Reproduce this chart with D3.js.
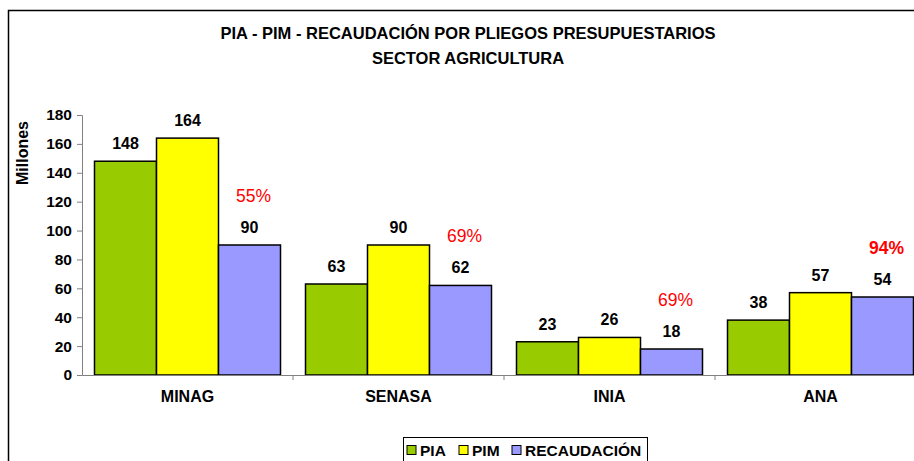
<!DOCTYPE html>
<html>
<head>
<meta charset="utf-8">
<script src="https://cdn.jsdelivr.net/npm/d3@7"></script>
<style>
  body { margin: 0; background: #fff; }
  svg { font-family: "Liberation Sans", Arial, sans-serif; }
</style>
</head>
<body>
<svg id="chart" width="914" height="461"></svg>
<script>
// chart data
const categories = ['MINAG', 'SENASA', 'INIA', 'ANA'];
const seriesNames = ['PIA', 'PIM', 'RECAUDACIÓN'];
const pia = [148, 63, 23, 38];
const pim = [164, 90, 26, 57];
const recaudacion = [90, 62, 18, 54];
const percents = ['55%', '69%', '69%', '94%'];
const yTicks = [0, 20, 40, 60, 80, 100, 120, 140, 160, 180];

const colors = ['#99cc00', '#ffff00', '#9999ff'];
const series = [pia, pim, recaudacion];

const svg = d3.select('#chart');

// outer frame
svg.append('rect')
  .attr('x', 8.5).attr('y', 10.5)
  .attr('width', 920).attr('height', 470)
  .attr('fill', 'none').attr('stroke', '#000').attr('stroke-width', 1.5);

// title
const title = svg.append('text')
  .attr('text-anchor', 'middle')
  .attr('font-weight', 'bold')
  .attr('font-size', 16.5);
title.append('tspan').attr('x', 468).attr('y', 39).text('PIA - PIM - RECAUDACIÓN POR PLIEGOS PRESUPUESTARIOS');
title.append('tspan').attr('x', 468).attr('y', 64).text('SECTOR AGRICULTURA');

const y = d3.scaleLinear().domain([0, 180]).range([375, 115]);
const x0 = d3.scaleBand().domain(categories).range([82, 926]);
const x1 = d3.scaleBand().domain(seriesNames).range([12.5, x0.bandwidth() - 12.5]);

// y axis
const yAxis = svg.append('g')
  .attr('transform', 'translate(82,0)')
  .call(d3.axisLeft(y).tickValues(yTicks).tickSize(5).tickPadding(5));
yAxis.select('.domain').attr('stroke', '#808080');
yAxis.selectAll('.tick line').attr('stroke', '#808080');
yAxis.selectAll('.tick text')
  .attr('font-size', 15.5).attr('font-weight', 'bold')
  .attr('font-family', '"Liberation Sans", Arial, sans-serif')
  .attr('fill', '#000');

svg.append('text')
  .attr('transform', 'translate(28,153) rotate(-90)')
  .attr('text-anchor', 'middle')
  .attr('font-weight', 'bold')
  .attr('font-size', 16)
  .text('Millones');

// bars
const groups = svg.selectAll('.grp')
  .data(categories)
  .enter().append('g')
  .attr('class', 'grp')
  .attr('transform', d => `translate(${x0(d)},0)`);

groups.each(function (cat, ci) {
  const g = d3.select(this);
  seriesNames.forEach((s, si) => {
    const v = series[si][ci];
    g.append('rect')
      .attr('x', x1(s))
      .attr('y', y(v))
      .attr('width', x1.bandwidth())
      .attr('height', y(0) - y(v))
      .attr('fill', colors[si])
      .attr('stroke', '#000')
      .attr('stroke-width', 1.5);
    g.append('text')
      .attr('x', x1(s) + x1.bandwidth() / 2)
      .attr('y', y(v) - 12)
      .attr('text-anchor', 'middle')
      .attr('font-weight', 'bold')
      .attr('font-size', 16)
      .text(v);
  });
  // percentage over recaudacion
  const r = recaudacion[ci];
  g.append('text')
    .attr('x', x1('RECAUDACIÓN') + x1.bandwidth() / 2 + 4)
    .attr('y', y(r) - 43)
    .attr('text-anchor', 'middle')
    .attr('font-size', 17.5)
    .attr('font-weight', ci === 3 ? 'bold' : 'normal')
    .attr('fill', '#ff0000')
    .text(percents[ci]);
});

// x axis
const xAxis = svg.append('g')
  .attr('transform', 'translate(0,375)')
  .call(d3.axisBottom(x0).tickSize(0).tickPadding(16));
xAxis.select('.domain').attr('stroke', '#808080');
xAxis.selectAll('.tick text')
  .attr('font-size', 16).attr('font-weight', 'bold')
  .attr('font-family', '"Liberation Sans", Arial, sans-serif')
  .attr('fill', '#000');
// group separator ticks
svg.selectAll('.sep')
  .data(categories.slice(1))
  .enter().append('line')
  .attr('x1', d => x0(d)).attr('x2', d => x0(d))
  .attr('y1', 375).attr('y2', 380)
  .attr('stroke', '#808080');

// legend
const legend = svg.append('g').attr('transform', 'translate(403,437)');
legend.append('rect')
  .attr('x', 0.5).attr('y', 0.5)
  .attr('width', 244).attr('height', 40)
  .attr('fill', '#fff').attr('stroke', '#000');
const itemX = [4, 56, 109];
seriesNames.forEach((s, i) => {
  legend.append('rect')
    .attr('x', itemX[i]).attr('y', 8.5)
    .attr('width', 9).attr('height', 9)
    .attr('fill', colors[i]).attr('stroke', '#000');
  legend.append('text')
    .attr('x', itemX[i] + 13).attr('y', 19)
    .attr('font-weight', 'bold')
    .attr('font-size', 15.5)
    .text(s);
});
</script>
</body>
</html>
